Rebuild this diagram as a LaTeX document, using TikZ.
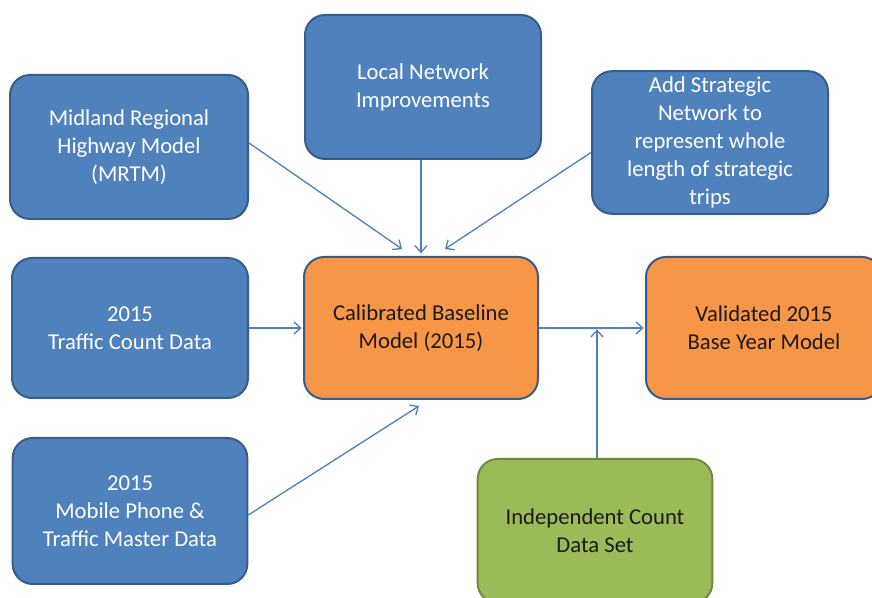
\documentclass[tikz,border=0pt]{standalone}
\usepackage{fontspec}
\setmainfont{Carlito}
\usepackage{tikz}
\usetikzlibrary{calc}
\usetikzlibrary{arrows.meta}
\definecolor{boxblue}{HTML}{4F81BD}
\definecolor{edgeblue}{HTML}{385D8A}
\definecolor{boxorange}{HTML}{F79646}
\definecolor{boxgreen}{HTML}{9BBB59}
\definecolor{edgegreen}{HTML}{71893F}
\definecolor{darktext}{HTML}{1A1A1A}
\tikzset{
  flow box/.style={rectangle,rounded corners=15pt,line width=1.5pt,align=center,
    font=\fontsize{17}{21}\selectfont,inner sep=2pt},
  input box/.style={flow box,fill=boxblue,draw=edgeblue,text=white},
  model box/.style={flow box,fill=boxorange,draw=edgeblue,text=darktext},
  check box/.style={flow box,fill=boxgreen,draw=edgegreen,text=darktext},
  feed/.style={draw=boxblue,line width=1pt,-{Straight Barb[length=5pt,width=9pt]}}
}

\begin{document}
\begin{tikzpicture}[x=0.75pt,y=-0.75pt]

  \useasboundingbox (0,0) rectangle (872,598);

  %入力
  \node[input box, minimum width=178.5pt, minimum height=108pt] (mrtm) at (129,147)
    {Midland Regional\\Highway Model\\(MRTM)};
  \node[input box, minimum width=177pt, minimum height=108pt] (local) at (423,87)
    {Local Network\\Improvements};
  \node[input box, minimum width=177pt, minimum height=107pt] (strat) at (710,142.5)
    {Add Strategic\\Network to\\represent whole\\length of strategic\\trips};
  \node[input box, minimum width=177pt, minimum height=105pt] (count) at (130,328)
    {2015\\Traffic Count Data};
  \node[input box, minimum width=176pt, minimum height=109.5pt] (mobile) at (130,511)
    {2015\\Mobile Phone \&\\Traffic Master Data};

  %モデル
  \node[model box, minimum width=175.5pt, minimum height=106.5pt] (calib) at (421,328)
    {Calibrated Baseline\\Model (2015)};
  \node[model box, minimum width=177pt, minimum height=106.5pt] (valid) at (764,328)
    {Validated 2015\\Base Year Model};
  \node[check box, minimum width=176pt, minimum height=108pt] (indep) at (595,531)
    {Independent Count\\Data Set};

  %矢印
  \draw[feed] ($(mrtm.east)+(0,-4)$) -- ($(calib.north)+(-19,-7)$);
  \draw[feed, shorten >=2pt] ($(local.south)+(-2,0)$) -- (calib.north);
  \draw[feed] ($(strat.west)+(0,10)$) -- ($(calib.north)+(24,-7)$);
  \draw[feed, shorten >=1pt] (count.east) -- (calib.west);
  \draw[feed] ($(mobile.east)+(0,4)$) -- ($(calib.south)+(-2,6)$);
  \draw[feed, shorten >=1pt] (calib.east) -- (valid.west);
  \draw[feed, shorten >=1pt] ($(indep.north)+(2,0)$) -- ($(indep.north |- calib.east)+(2,0)$);

\end{tikzpicture}
\end{document}
